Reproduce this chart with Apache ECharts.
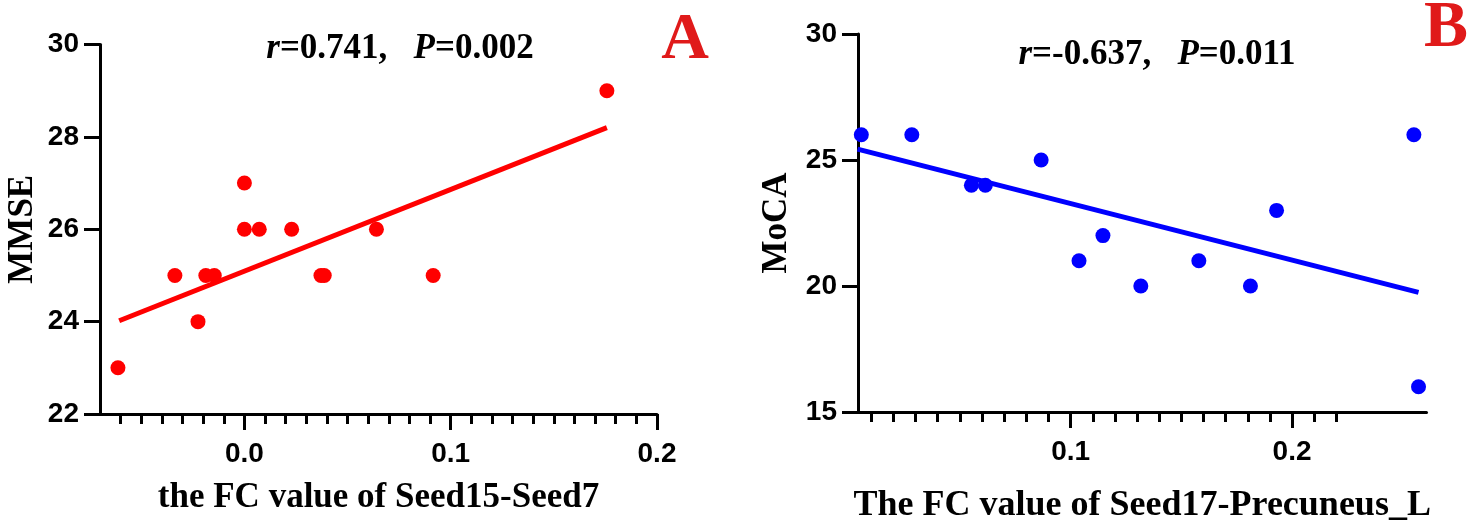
<!DOCTYPE html>
<html>
<head>
<meta charset="utf-8">
<script src="https://cdn.jsdelivr.net/npm/echarts@6/dist/echarts.min.js"></script>
<style>
  html, body { margin: 0; padding: 0; background: #fff; }
  #chart { width: 1471px; height: 532px; }
</style>
</head>
<body>
<div id="chart"></div>
<script>
// panel A: MMSE vs FC of Seed15-Seed7
const fcA = [-0.0613, -0.0337, -0.0225, -0.0187, -0.0146, 0.0, 0.0, 0.0072, 0.0229, 0.0371, 0.0387, 0.064, 0.0915, 0.1757];
const mmse = [23, 25, 24, 25, 25, 27, 26, 26, 26, 25, 25, 26, 25, 29];
const fitA = [[-0.0607, 24.02], [0.1757, 28.2]];

// panel B: MoCA vs FC of Seed17-Precuneus_L
const fcB = [0.0055, 0.0283, 0.0552, 0.0615, 0.0867, 0.1038, 0.1146, 0.1317, 0.1579, 0.1812, 0.193, 0.255, 0.2571];
const moca = [26, 26, 24, 24, 25, 21, 22, 20, 21, 20, 23, 26, 16];
const fitB = [[0.0038, 25.43], [0.2571, 19.75]];

// tick values
const majorA = [0, 0.1, 0.2];
const minorA = [-0.06, -0.05, -0.04, -0.03, -0.02, -0.01, 0.01, 0.02, 0.03, 0.04, 0.05, 0.06, 0.07, 0.08, 0.09,
  0.11, 0.12, 0.13, 0.14, 0.15, 0.16, 0.17, 0.18, 0.19];
const majorB = [0.1, 0.2];
const minorB = [0.01, 0.02, 0.03, 0.04, 0.05, 0.06, 0.07, 0.08, 0.09, 0.11, 0.12, 0.13, 0.14, 0.15, 0.16, 0.17,
  0.18, 0.19, 0.21, 0.22];

const serif = "'Liberation Serif', 'Times New Roman', serif";
const sans = "'Liberation Sans', Arial, sans-serif";

const chart = echarts.init(document.getElementById('chart'));

// x axis pair: one with labels + short ticks, one with long major ticks only
function xPair(grid, min, max, major, minor, name, nameGap, nameSize) {
  return [
    {
      type: 'value', gridIndex: grid, min: min, max: max, position: 'bottom',
      axisLine: { onZero: false, lineStyle: { color: '#000', width: 3 } },
      axisTick: { customValues: minor, length: 10, lineStyle: { color: '#000', width: 3 } },
      axisLabel: {
        customValues: major, margin: 26, color: '#000', fontSize: 28, fontWeight: 'bold', fontFamily: sans,
        formatter: v => v.toFixed(1)
      },
      splitLine: { show: false },
      name: name, nameLocation: 'middle', nameGap: nameGap,
      nameTextStyle: { color: '#000', fontSize: nameSize, fontWeight: 'bold', fontFamily: serif }
    },
    {
      type: 'value', gridIndex: grid, min: min, max: max, position: 'bottom',
      axisLine: { show: false, onZero: false },
      axisTick: { customValues: major, length: 16, lineStyle: { color: '#000', width: 3 } },
      axisLabel: { show: false },
      splitLine: { show: false }
    }
  ];
}

function yAxis(grid, min, max, interval, name, nameGap) {
  return {
    type: 'value', gridIndex: grid, min: min, max: max, interval: interval,
    axisLine: { show: true, onZero: false, lineStyle: { color: '#000', width: 3 } },
    axisTick: { show: true, length: 16, lineStyle: { color: '#000', width: 3 } },
    axisLabel: { margin: 21, color: '#000', fontSize: 28, fontWeight: 'bold', fontFamily: sans },
    splitLine: { show: false },
    name: name, nameLocation: 'middle', nameRotate: 90, nameGap: nameGap,
    nameTextStyle: { color: '#000', fontSize: 35, fontWeight: 'bold', fontFamily: serif }
  };
}

function statText(x, y, r, p) {
  return {
    type: 'text', x: x, y: y,
    style: {
      text: '{i|r}{b|=' + r + ',   }{i|P}{b|=' + p + '}',
      align: 'center', verticalAlign: 'middle', textAlign: 'center', textVerticalAlign: 'middle',
      fill: '#000',
      rich: {
        i: { fontFamily: serif, fontSize: 35, fontWeight: 'bold', fontStyle: 'italic', fill: '#000' },
        b: { fontFamily: serif, fontSize: 35, fontWeight: 'bold', fill: '#000' }
      }
    }
  };
}

function panelLetter(x, y, t) {
  return {
    type: 'text', x: x, y: y,
    style: {
      text: t, align: 'center', verticalAlign: 'middle', textAlign: 'center', textVerticalAlign: 'middle',
      fill: '#e01a1a', fontFamily: serif, fontSize: 66, fontWeight: 'bold'
    }
  };
}

const toPts = (xs, ys) => xs.map((v, i) => [v, ys[i]]);

chart.setOption({
  animation: false,
  grid: [
    { left: 100, top: 44.5, width: 557, height: 369.5 },
    { left: 858, top: 34, width: 568.5, height: 378 }
  ],
  xAxis: [
    ...xPair(0, -0.07, 0.2, majorA, minorA, 'the FC value of Seed15-Seed7', 66, 35),
    ...xPair(1, 0.004, 0.2607, majorB, minorB, 'The FC value of Seed17-Precuneus_L', 76, 36)
  ],
  yAxis: [
    yAxis(0, 22, 30, 2, 'MMSE', 60),
    yAxis(1, 15, 30, 5, 'MoCA', 64)
  ],
  graphic: [
    statText(400, 49, '0.741', '0.002'),
    statText(1157, 55, '-0.637', '0.011'),
    panelLetter(685, 41, 'A'),
    panelLetter(1446, 29, 'B')
  ],
  series: [
    {
      type: 'line', xAxisIndex: 0, yAxisIndex: 0, data: fitA, symbol: 'none', clip: false,
      lineStyle: { color: '#ff0000', width: 5 }, z: 2
    },
    {
      type: 'scatter', xAxisIndex: 0, yAxisIndex: 0, data: toPts(fcA, mmse), symbolSize: 15, clip: false,
      itemStyle: { color: '#ff0000', opacity: 1 }, z: 3
    },
    {
      type: 'line', xAxisIndex: 2, yAxisIndex: 1, data: fitB, symbol: 'none', clip: false,
      lineStyle: { color: '#0000ff', width: 5 }, z: 2
    },
    {
      type: 'scatter', xAxisIndex: 2, yAxisIndex: 1, data: toPts(fcB, moca), symbolSize: 15, clip: false,
      itemStyle: { color: '#0000ff', opacity: 1 }, z: 3
    }
  ]
});
</script>
</body>
</html>
